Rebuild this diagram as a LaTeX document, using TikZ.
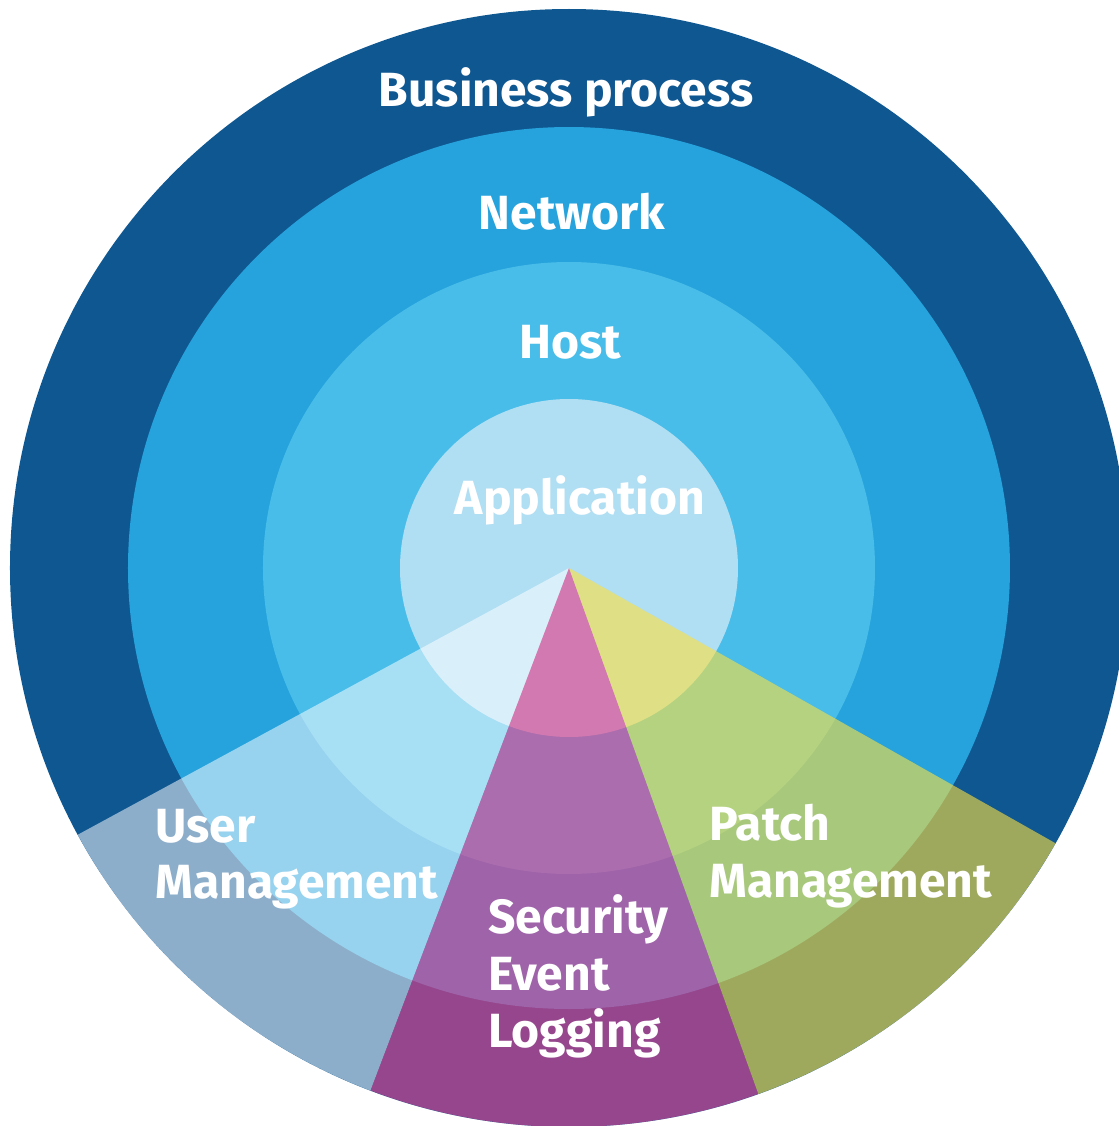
\documentclass[tikz,border=0pt]{standalone}
\usepackage{fontspec}
\setmainfont{Fira Sans}
\usetikzlibrary{positioning}
\definecolor{bizblue}{RGB}{15,87,145}
\definecolor{netblue}{RGB}{38,163,220}
\definecolor{hostblue}{RGB}{72,189,233}
\definecolor{appblue}{RGB}{176,222,243}
\definecolor{logpink}{RGB}{232,60,137}
\definecolor{patchyellow}{RGB}{255,225,60}
\tikzstyle{layerlabel}=[text=white, inner sep=0pt, font=\fontsize{24}{28.5}\selectfont\bfseries]
\tikzstyle{ringlabel}=[layerlabel, anchor=base]
\tikzstyle{wedgelabel}=[layerlabel, anchor=base west]
\newcommand{\layerring}[2]{\fill [#1] (0,0) circle (#2);}
\newcommand{\layersector}[3]{\fill [#1] (0,0) -- (#2:559) arc (#2:#3:559) -- cycle;}

\begin{document}
\begin{tikzpicture}[x=0.5pt, y=0.5pt]
\useasboundingbox (-569,-558) rectangle (550,568);
% layers
\layerring{bizblue}{559}
\layerring{netblue}{441}
\layerring{hostblue}{306}
\layerring{appblue}{169}
% controls
\layersector{white, fill opacity=0.52}{208.5}{249.2}
\layersector{logpink, fill opacity=0.62}{249.2}{289.8}
\layersector{patchyellow, fill opacity=0.6}{289.8}{330.5}
% labels
\node [ringlabel] (business) at (-3,461) {Business process};
\node [ringlabel] (network) at (3,339) {Network};
\node [ringlabel] (host) at (1,210) {Host};
\node [ringlabel] (application) at (11,54) {Application};
\node [wedgelabel] (user) at (-414,-274) {User};
\node [wedgelabel] (usermgmt) at (-414,-330) {Management};
\node [wedgelabel] (patch) at (140,-272) {Patch};
\node [wedgelabel] (patchmgmt) at (140,-329) {Management};
\node [wedgelabel] (security) at (-81,-365) {Security};
\node [wedgelabel] (event) at (-81,-422) {Event};
\node [wedgelabel] (logging) at (-81,-479) {Logging};
\end{tikzpicture}
\end{document}
